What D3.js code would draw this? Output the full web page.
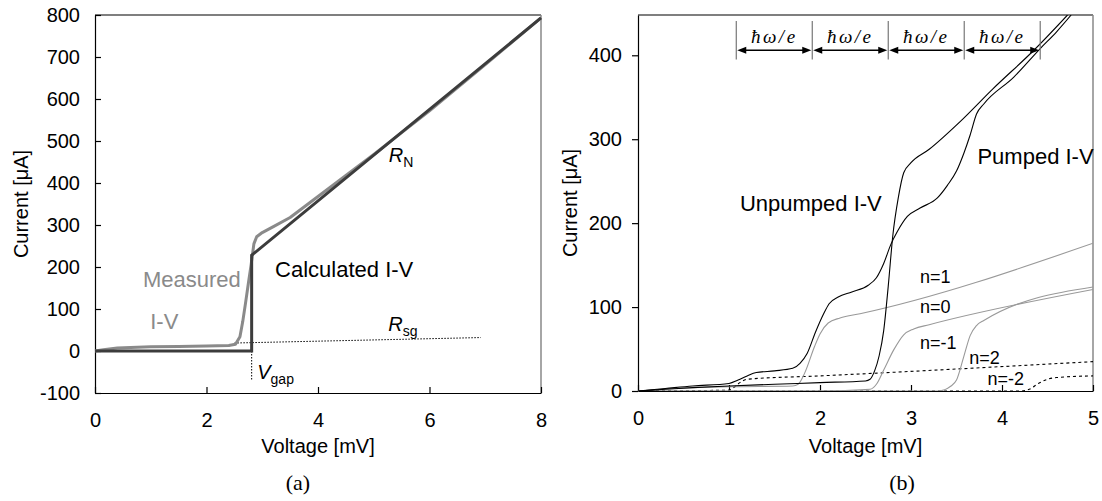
<!DOCTYPE html>
<html>
<head>
<meta charset="utf-8">
<script src="https://cdn.jsdelivr.net/npm/d3@7"></script>
<style>
  body { margin: 0; background: #fff; }
  svg { display: block; font-family: "Liberation Sans", Arial, sans-serif; }
  .axis text { font-size: 20px; fill: #000; }
  .axis path, .axis line { stroke: #000; stroke-width: 1.2; }
</style>
</head>
<body>
<div class="chart"></div>
<script>
// ---- panel (a) data ----
const leftXTicks = [0, 2, 4, 6, 8];
const leftYTicks = [-100, 0, 100, 200, 300, 400, 500, 600, 700, 800];

const calcV = [0, 2.81, 2.81, 8];
const calcI = [0, 0, 228, 793];

const measV = [0, 0.15, 0.4, 1.0, 1.5, 2.0, 2.4, 2.52, 2.6, 2.65, 2.7, 2.75, 2.8, 2.85, 2.9, 3.0, 3.2, 3.5, 4.0, 4.5, 5.0, 5.5, 6.0, 7.0, 8.0];
const measI = [0, 3, 7, 10, 11, 12, 13, 16, 34, 70, 114, 160, 205, 255, 272, 282, 296, 318, 368, 418, 468, 520, 572, 682, 793];

const rsgV = [2.5, 6.92];
const rsgI = [19, 32];
const vgapV = [2.81, 2.81];
const vgapI = [0, -68];

// ---- panel (b) data ----
const rightXTicks = [0, 1, 2, 3, 4, 5];
const rightYTicks = [0, 100, 200, 300, 400];

const unpumpedV = [0, 0.3, 0.6, 1.0, 1.5, 2.0, 2.5, 2.55, 2.6, 2.65, 2.7, 2.75, 2.8, 2.86, 2.92, 3.0, 3.2, 3.54, 3.9, 4.35, 4.72];
const unpumpedI = [0, 2, 4, 6, 8, 10, 12, 14, 24, 42, 72, 125, 185, 230, 260, 272, 288, 321, 360, 406, 448];

const pumpedV = [0, 0.3, 0.6, 1.0, 1.1, 1.2, 1.3, 1.5, 1.7, 1.78, 1.86, 1.95, 2.04, 2.1, 2.2, 2.35, 2.53, 2.62, 2.7, 2.78, 2.85, 2.96, 3.1, 3.29, 3.4, 3.5, 3.58, 3.65, 3.72, 3.8, 4.13, 4.42, 4.6, 4.76];
const pumpedI = [0, 3, 6, 9, 13, 18, 22, 24, 27, 33, 45, 70, 92, 104, 112, 118, 126, 135, 152, 175, 190, 208, 218, 230, 245, 262, 283, 305, 330, 342, 374, 408, 428, 448];

const n1V = [0, 0.4, 1.0, 1.7, 1.76, 1.83, 1.94, 2.0, 2.09, 2.22, 2.44, 5.0];
const n1I = [0, 3, 5, 6, 8, 21, 53, 68, 81, 87, 92, 176];
const n0V = [0, 2.0, 2.55, 2.62, 2.7, 2.81, 2.92, 3.03, 3.2, 5.0];
const n0I = [0, 0, 2, 8, 25, 49, 67, 74, 79, 121];
const nm1V = [0, 3.3, 3.44, 3.5, 3.58, 3.65, 3.72, 3.8, 5.0];
const nm1I = [0, 0, 6, 13, 41, 66, 78, 84, 124];
const n2V = [0, 1.0, 1.05, 1.12, 1.2, 2.0, 5.0];
const n2I = [0, 1, 4, 10, 14, 18, 35];
const nm2V = [0, 4.2, 4.3, 4.4, 4.5, 4.6, 5.0];
const nm2I = [0, 0, 2, 9, 14, 16, 18];

const hwMarks = [1.08, 1.915, 2.75, 3.585, 4.42];

const zip = (xs, ys) => xs.map((x, i) => [x, ys[i]]);
const plain = d => String(d);   // keep "-100" with a hyphen like the original

const svgW = 1102;
const svgH = 501;

const svg = d3.select(".chart")
  .append("svg")
  .attr("width", svgW)
  .attr("height", svgH);

svg.append("rect").attr("width", svgW).attr("height", svgH).attr("fill", "#fff");

// ================= panel (a) =================
const xL = d3.scaleLinear().domain([0, 8]).range([95, 541]);
const yL = d3.scaleLinear().domain([-100, 800]).range([393, 15]);

const gL = svg.append("g");

gL.append("line")
  .attr("x1", xL(0)).attr("x2", xL(8))
  .attr("y1", yL(800)).attr("y2", yL(800))
  .attr("stroke", "#000").attr("stroke-width", 1.2);
gL.append("line")
  .attr("x1", xL(8)).attr("x2", xL(8))
  .attr("y1", yL(800)).attr("y2", yL(-100))
  .attr("stroke", "#888").attr("stroke-width", 1.5);

gL.append("g")
  .attr("class", "axis")
  .attr("transform", `translate(0, ${yL(-100)})`)
  .call(d3.axisBottom(xL).tickValues(leftXTicks).tickFormat(plain)
    .tickSizeInner(-6).tickSizeOuter(0).tickPadding(20));

gL.append("g")
  .attr("class", "axis")
  .attr("transform", `translate(${xL(0)}, 0)`)
  .call(d3.axisLeft(yL).tickValues(leftYTicks).tickFormat(plain)
    .tickSizeInner(-6).tickSizeOuter(0).tickPadding(15));

const lineL = d3.line().x(d => xL(d[0])).y(d => yL(d[1]));

gL.append("path")
  .attr("d", lineL(zip(rsgV, rsgI)))
  .attr("fill", "none").attr("stroke", "#000")
  .attr("stroke-width", 1).attr("stroke-dasharray", "1.5,1.5");

gL.append("path")
  .attr("d", lineL(zip(vgapV, vgapI)))
  .attr("fill", "none").attr("stroke", "#000")
  .attr("stroke-width", 1).attr("stroke-dasharray", "1.5,1.5");

gL.append("path")
  .attr("d", lineL(zip(measV, measI)))
  .attr("fill", "none").attr("stroke", "#8a8a8a")
  .attr("stroke-width", 3).attr("stroke-linejoin", "round");

gL.append("path")
  .attr("d", lineL(zip(calcV, calcI)))
  .attr("fill", "none").attr("stroke", "#3c3c3c")
  .attr("stroke-width", 3).attr("stroke-linejoin", "miter");

gL.append("text").text("Measured")
  .attr("x", xL(0.86)).attr("y", yL(152))
  .style("font-size", "22px").style("fill", "#8a8a8a");
gL.append("text").text("I-V")
  .attr("x", xL(0.99)).attr("y", yL(52))
  .style("font-size", "22px").style("fill", "#8a8a8a");
gL.append("text").text("Calculated I-V")
  .attr("x", xL(3.23)).attr("y", yL(176))
  .style("font-size", "22px");

const subLabel = (g, x, y, main, sub) => {
  const t = g.append("text").attr("x", x).attr("y", y).style("font-size", "20px");
  t.append("tspan").text(main).style("font-style", "italic");
  t.append("tspan").text(sub).attr("dy", 5).style("font-size", "14px");
};
subLabel(gL, xL(5.27), yL(450), "R", "N");
subLabel(gL, xL(5.26), yL(48), "R", "sg");
subLabel(gL, xL(2.91), yL(-67), "V", "gap");

gL.append("text").text("Voltage [mV]")
  .attr("x", (xL(0) + xL(8)) / 2).attr("y", 453)
  .attr("text-anchor", "middle").style("font-size", "20px");
gL.append("text").text("Current [μA]")
  .attr("transform", `translate(28, ${(yL(-100) + yL(800)) / 2}) rotate(-90)`)
  .attr("text-anchor", "middle").style("font-size", "20px");
gL.append("text").text("(a)")
  .attr("x", 298).attr("y", 490)
  .attr("text-anchor", "middle")
  .style("font-family", "'Liberation Serif', 'Times New Roman', serif")
  .style("font-size", "22px");

// ================= panel (b) =================
const xR = d3.scaleLinear().domain([0, 5]).range([638, 1093]);
const yR = d3.scaleLinear().domain([0, 448]).range([391, 15]);

const gR = svg.append("g");

svg.append("defs").append("clipPath").attr("id", "clipR")
  .append("rect")
  .attr("x", xR(0)).attr("y", yR(448))
  .attr("width", xR(5) - xR(0)).attr("height", yR(0) - yR(448));

gR.append("line")
  .attr("x1", xR(0)).attr("x2", xR(5))
  .attr("y1", yR(448)).attr("y2", yR(448))
  .attr("stroke", "#000").attr("stroke-width", 1.2);
gR.append("line")
  .attr("x1", xR(5)).attr("x2", xR(5))
  .attr("y1", yR(448)).attr("y2", yR(0))
  .attr("stroke", "#888").attr("stroke-width", 1.5);

gR.append("g")
  .attr("class", "axis")
  .attr("transform", `translate(0, ${yR(0)})`)
  .call(d3.axisBottom(xR).tickValues(rightXTicks).tickFormat(plain)
    .tickSizeInner(-6).tickSizeOuter(0).tickPadding(20));

gR.append("g")
  .attr("class", "axis")
  .attr("transform", `translate(${xR(0)}, 0)`)
  .call(d3.axisLeft(yR).tickValues(rightYTicks).tickFormat(plain)
    .tickSizeInner(6).tickSizeOuter(0).tickPadding(10));

const lineR = d3.line().x(d => xR(d[0])).y(d => yR(d[1])).curve(d3.curveMonotoneX);
const curves = gR.append("g").attr("clip-path", "url(#clipR)");

const series = [
  { v: n2V, i: n2I, color: "#000", dash: "3,3" },
  { v: nm2V, i: nm2I, color: "#000", dash: "3,3" },
  { v: n1V, i: n1I, color: "#999", dash: null },
  { v: n0V, i: n0I, color: "#999", dash: null },
  { v: nm1V, i: nm1I, color: "#999", dash: null },
  { v: pumpedV, i: pumpedI, color: "#000", dash: null },
  { v: unpumpedV, i: unpumpedI, color: "#000", dash: null }
];

curves.selectAll("path")
  .data(series)
  .enter()
  .append("path")
  .attr("d", s => lineR(zip(s.v, s.i)))
  .attr("fill", "none")
  .attr("stroke", s => s.color)
  .attr("stroke-width", 1.1)
  .attr("stroke-dasharray", s => s.dash);

// ħω/e spacing markers
const markTop = 441, markBot = 395, arrowY = 406, markText = 415;
gR.selectAll(".hwmark")
  .data(hwMarks)
  .enter()
  .append("line")
  .attr("class", "hwmark")
  .attr("x1", d => xR(d)).attr("x2", d => xR(d))
  .attr("y1", yR(markTop)).attr("y2", yR(markBot))
  .attr("stroke", "#777").attr("stroke-width", 1.2);

const spans = d3.pairs(hwMarks);
const ay = yR(arrowY);
spans.forEach(([a, b]) => {
  const x1 = xR(a) + 1, x2 = xR(b) - 1;
  gR.append("line")
    .attr("x1", x1 + 6).attr("x2", x2 - 6)
    .attr("y1", ay).attr("y2", ay)
    .attr("stroke", "#000").attr("stroke-width", 1.6);
  gR.append("path")
    .attr("d", `M${x1},${ay} L${x1 + 9},${ay - 3.5} L${x1 + 9},${ay + 3.5} Z`)
    .attr("fill", "#000");
  gR.append("path")
    .attr("d", `M${x2},${ay} L${x2 - 9},${ay - 3.5} L${x2 - 9},${ay + 3.5} Z`)
    .attr("fill", "#000");
  gR.append("text").text("ħω/e")
    .attr("x", (xR(a) + xR(b)) / 2).attr("y", yR(markText))
    .attr("text-anchor", "middle")
    .style("font-family", "'Liberation Serif', 'Times New Roman', serif")
    .style("font-style", "italic")
    .style("letter-spacing", "2.5px")
    .style("font-size", "19px");
});

gR.append("text").text("Unpumped I-V")
  .attr("x", xR(1.12)).attr("y", yR(214)).style("font-size", "22px");
gR.append("text").text("Pumped I-V")
  .attr("x", xR(3.73)).attr("y", yR(271)).style("font-size", "22px");

const nLabels = [
  { t: "n=1", v: 3.10, i: 129 },
  { t: "n=0", v: 3.10, i: 93 },
  { t: "n=-1", v: 3.10, i: 50 },
  { t: "n=2", v: 3.64, i: 32 },
  { t: "n=-2", v: 3.84, i: 7 }
];
gR.selectAll(".nlab")
  .data(nLabels)
  .enter()
  .append("text")
  .attr("class", "nlab")
  .text(d => d.t)
  .attr("x", d => xR(d.v)).attr("y", d => yR(d.i))
  .style("font-size", "18px");

gR.append("text").text("Voltage [mV]")
  .attr("x", (xR(0) + xR(5)) / 2).attr("y", 453)
  .attr("text-anchor", "middle").style("font-size", "20px");
gR.append("text").text("Current [μA]")
  .attr("transform", `translate(577, ${(yR(0) + yR(448)) / 2}) rotate(-90)`)
  .attr("text-anchor", "middle").style("font-size", "20px");
gR.append("text").text("(b)")
  .attr("x", 902).attr("y", 490)
  .attr("text-anchor", "middle")
  .style("font-family", "'Liberation Serif', 'Times New Roman', serif")
  .style("font-size", "22px");
</script>
</body>
</html>
